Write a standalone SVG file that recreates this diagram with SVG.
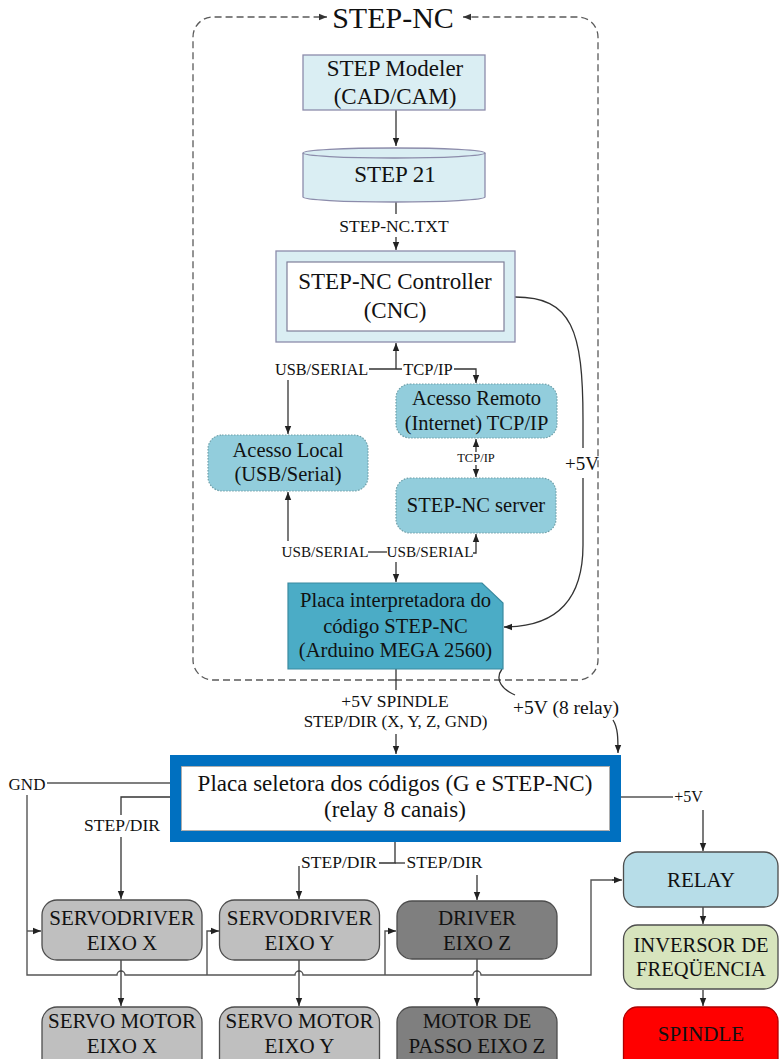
<svg xmlns="http://www.w3.org/2000/svg" width="779" height="1059" viewBox="0 0 779 1059">
  <defs>
    <marker id="ah" viewBox="0 0 10 10" refX="10" refY="5" markerWidth="8" markerHeight="8" markerUnits="userSpaceOnUse" orient="auto-start-reverse">
      <path d="M0,1 L10,5 L0,9 z" fill="#222"/>
    </marker>
    <marker id="ahg" viewBox="0 0 10 10" refX="10" refY="5" markerWidth="8" markerHeight="8" markerUnits="userSpaceOnUse" orient="auto">
      <path d="M0,1 L10,5 L0,9 z" fill="#333"/>
    </marker>
  </defs>
  <style>
    text { font-family: "Liberation Serif", Tinos, "Times New Roman", "DejaVu Serif", serif; fill: #111; text-anchor: middle; }
    .ln { fill: none; stroke: #333; stroke-width: 1.3; }
    .gl { fill: none; stroke: #555; stroke-width: 1.4; }
    .arr { marker-end: url(#ah); }
    .frame { fill: none; stroke: #5a5a5a; stroke-width: 1.3; stroke-dasharray: 7 4; marker-end: url(#ahg); }
    .pale { fill: #DAEEF3; stroke: #8c8cab; stroke-width: 1.3; }
    .teal { fill: #92CDDC; stroke: #6f9fa8; stroke-width: 1.2; stroke-dasharray: 1.5 1.5; }
    .drv { fill: #BFBFBF; stroke: #4d4d4d; stroke-width: 1.3; }
    .drvd { fill: #7F7F7F; stroke: #4d4d4d; stroke-width: 1.3; }
    .f23 { font-size: 23px; }
    .f21 { font-size: 21px; }
    .f20 { font-size: 20.5px; }
    .f17 { font-size: 17.5px; }
  </style>

  <!-- STEP-NC boundary -->
  <g id="stepnc-frame">
    <path class="frame" d="M395,680 H213 A20,20 0 0 1 193,660 V37 A20,20 0 0 1 213,17 H327"/>
    <path class="frame" d="M395,680 H578 A20,20 0 0 0 598,660 V37 A20,20 0 0 0 578,17 H463"/>
    <text x="393" y="28" style="font-size:30px">STEP-NC</text>
  </g>

  <!-- connectors -->
  <g id="connectors">
    <path class="ln arr" d="M396,110 V146"/>
    <path class="ln" d="M396,202 V214"/>
    <path class="ln arr" d="M396,237 V250"/>
    <!-- controller branches -->
    <path class="ln arr" d="M396,369 V343"/>
    <path class="ln" d="M369,369 H402"/>
    <path class="ln arr" d="M454,369 H476 V383"/>
    <path class="ln arr" d="M288,380 V434"/>
    <path class="ln arr" d="M476,452 V439"/>
    <path class="ln arr" d="M476,465 V477"/>
    <!-- board to access nodes -->
    <path class="ln" d="M368,552 H387"/>
    <path class="ln arr" d="M288,541 V492"/>
    <path class="ln arr" d="M473,553 H476 V534"/>
    <path class="ln arr" d="M396,562 V582"/>
    <!-- +5V supply curve -->
    <path class="ln" d="M515,297 C572,297 583,330 583,420 V448"/>
    <path class="ln arr" d="M583,478 V545 C583,605 552,627 504,627"/>
    <!-- board to selector -->
    <path class="ln" d="M396,669 V690"/>
    <path class="ln arr" d="M396,734 V754"/>
    <path class="ln" d="M502,669 C494,680 503,690 515,695"/>
    <path class="ln arr" d="M613,720 C618,728 618,738 618,753"/>
    <!-- selector outputs -->
    <path class="gl" d="M47,783 H170"/>
    <path class="ln" d="M170,797 H121 V815"/>
    <path class="ln arr" d="M121,837 V899"/>
    <path class="ln" d="M395,842 V863 H379"/>
    <path class="ln" d="M395,863 H405"/>
    <path class="ln arr" d="M299,866 V899"/>
    <path class="ln arr" d="M477,875 V900"/>
    <path class="gl" d="M621,797 H673"/>
    <path class="ln arr" d="M703,810 V851"/>
    <!-- ground bus with hops -->
    <path class="gl" d="M27,795 V975 H117 A4,4 0 0 1 125,975 H295 A4,4 0 0 1 303,975 H473 A4,4 0 0 1 481,975 H591 V880 H614"/>
    <path class="ln arr" d="M612,880 H622"/>
    <path class="gl" d="M27,931 H34"/>
    <path class="ln arr" d="M33,931 H41"/>
    <path class="gl" d="M207,975 V931 H211"/>
    <path class="ln arr" d="M210,931 H219"/>
    <path class="gl" d="M385,975 V931 H389"/>
    <path class="ln arr" d="M388,931 H396"/>
    <!-- drivers to motors -->
    <path class="ln arr" d="M121,960 V1006"/>
    <path class="ln arr" d="M299,960 V1006"/>
    <path class="ln arr" d="M477,959 V1006"/>
    <!-- spindle chain -->
    <path class="ln arr" d="M703,907 V924"/>
    <path class="ln arr" d="M703,990 V1006"/>
  </g>

  <!-- connector labels -->
  <g id="labels">
    <text x="394" y="232" style="font-size:17.5px">STEP-NC.TXT</text>
    <text x="321.5" y="375" style="font-size:16.3px">USB/SERIAL</text>
    <text x="428" y="375" style="font-size:16.5px">TCP/IP</text>
    <text x="476" y="462" style="font-size:12.5px">TCP/IP</text>
    <text x="325" y="557" style="font-size:15.2px">USB/SERIAL</text>
    <text x="430" y="557" style="font-size:15.2px">USB/SERIAL</text>
    <text x="582" y="470" style="font-size:19px">+5V</text>
    <text x="395" y="707" class="f17">+5V SPINDLE</text>
    <text x="395.5" y="727" style="font-size:17px">STEP/DIR (X, Y, Z, GND)</text>
    <text x="566" y="714" style="font-size:19.5px">+5V (8 relay)</text>
    <text x="27" y="790" style="font-size:17px">GND</text>
    <text x="122" y="831" class="f17">STEP/DIR</text>
    <text x="339" y="868" class="f17">STEP/DIR</text>
    <text x="444.5" y="868" class="f17">STEP/DIR</text>
    <text x="688.5" y="802" style="font-size:16px">+5V</text>
  </g>

  <g id="step-modeler">
    <rect class="pale" x="303" y="55" width="182" height="55"/>
    <text x="395" y="76" class="f23">STEP Modeler</text>
    <text x="395" y="104" class="f23">(CAD/CAM)</text>
  </g>

  <g id="step21">
    <path class="pale" d="M303,153 A91,5 0 0 1 485,153 V197 A91,5 0 0 1 303,197 Z"/>
    <path class="pale" d="M303,153 A91,5 0 0 0 485,153"/>
    <text x="395" y="182" class="f23">STEP 21</text>
  </g>

  <g id="controller">
    <rect class="pale" x="276" y="251" width="239" height="91"/>
    <rect x="287" y="262" width="217" height="69" fill="#fff" stroke="#7f7f99" stroke-width="1.2"/>
    <text x="395" y="289" class="f23">STEP-NC Controller</text>
    <text x="395" y="318" class="f23">(CNC)</text>
  </g>

  <g id="acesso-remoto">
    <rect class="teal" x="396" y="384" width="161" height="54" rx="14"/>
    <text x="476.5" y="405" class="f20">Acesso Remoto</text>
    <text x="476.5" y="430" class="f20">(Internet) TCP/IP</text>
  </g>

  <g id="acesso-local">
    <rect class="teal" x="208" y="435" width="160" height="56" rx="14"/>
    <text x="288" y="457" class="f20">Acesso Local</text>
    <text x="288" y="481" class="f20">(USB/Serial)</text>
  </g>

  <g id="stepnc-server">
    <rect class="teal" x="396" y="478" width="160" height="55" rx="14"/>
    <text x="476" y="512" class="f20">STEP-NC server</text>
  </g>

  <g id="placa-interpretadora">
    <path d="M288,583 H482 L503,603 V669 H288 Z" fill="#4BACC6" stroke="#3a8aa0" stroke-width="1.2"/>
    <text x="395.5" y="607" style="font-size:20.6px">Placa interpretadora do</text>
    <text x="395.5" y="633" style="font-size:20.6px">código STEP-NC</text>
    <text x="395.5" y="657" style="font-size:20.6px">(Arduino MEGA 2560)</text>
  </g>

  <g id="placa-seletora">
    <rect x="175.5" y="760.5" width="440" height="76" fill="#fff" stroke="#0070C0" stroke-width="11"/>
    <rect x="181.5" y="766.5" width="428" height="64" fill="none" stroke="#9a9a9a" stroke-width="0.8"/>
    <text x="395" y="791" class="f23">Placa seletora dos códigos (G e STEP-NC)</text>
    <text x="395" y="817" class="f23">(relay 8 canais)</text>
  </g>

  <g id="servodriver-x">
    <rect class="drv" x="42" y="900" width="160" height="60" rx="15"/>
    <text x="122" y="925" class="f21">SERVODRIVER</text>
    <text x="122" y="950" class="f21">EIXO X</text>
  </g>

  <g id="servodriver-y">
    <rect class="drv" x="219.5" y="900" width="160" height="60" rx="15"/>
    <text x="299.5" y="925" class="f21">SERVODRIVER</text>
    <text x="299.5" y="950" class="f21">EIXO Y</text>
  </g>

  <g id="driver-z">
    <rect class="drvd" x="397" y="901" width="160" height="58" rx="15"/>
    <text x="477" y="925" class="f21">DRIVER</text>
    <text x="477" y="950" class="f21">EIXO Z</text>
  </g>

  <g id="servomotor-x">
    <rect class="drv" x="42" y="1007" width="160" height="70" rx="15"/>
    <text x="122" y="1028" class="f21">SERVO MOTOR</text>
    <text x="122" y="1053" class="f21">EIXO X</text>
  </g>

  <g id="servomotor-y">
    <rect class="drv" x="219.5" y="1007" width="160" height="70" rx="15"/>
    <text x="299.5" y="1028" class="f21">SERVO MOTOR</text>
    <text x="299.5" y="1053" class="f21">EIXO Y</text>
  </g>

  <g id="motor-passo-z">
    <rect class="drvd" x="397" y="1007" width="160" height="70" rx="15"/>
    <text x="477" y="1028" class="f21">MOTOR DE</text>
    <text x="477" y="1053" class="f21">PASSO EIXO Z</text>
  </g>

  <g id="relay">
    <rect x="623.5" y="852" width="154.5" height="55" rx="14" fill="#B7DDE8" stroke="#4d4d4d" stroke-width="1.3"/>
    <text x="701" y="887" class="f21">RELAY</text>
  </g>

  <g id="inversor">
    <rect x="623.5" y="925" width="154.5" height="64" rx="14" fill="#D7E4BD" stroke="#4d4d4d" stroke-width="1.3"/>
    <text x="701" y="952" class="f20">INVERSOR DE</text>
    <text x="701" y="976" class="f20">FREQÜENCIA</text>
  </g>

  <g id="spindle">
    <rect x="623.5" y="1007" width="154.5" height="70" rx="14" fill="#FF0000" stroke="#b00000" stroke-width="1.3"/>
    <text x="701" y="1041" class="f21">SPINDLE</text>
  </g>
</svg>
